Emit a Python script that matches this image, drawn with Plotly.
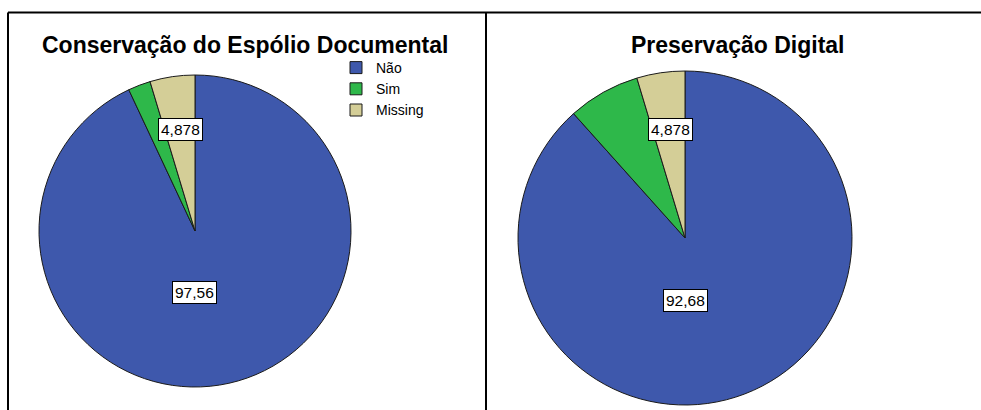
import plotly.graph_objects as go

# ---- data ----
categories = ["Não", "Sim", "Missing"]
left_title = "Conservação do Espólio Documental"
right_title = "Preservação Digital"
left_counts = [40, 1, 2]
right_counts = [38, 3, 2]
# percentages shown in the label boxes (Não, Missing)
left_labels = {"Não": "97,56", "Missing": "4,878"}
right_labels = {"Não": "92,68", "Missing": "4,878"}

colors = ["#3E58AC", "#2EB84A", "#D4CE97"]
W, H = 981, 410

def px_x(x):
    return x / W

def px_y(y):
    return 1 - y / H

fig = go.Figure()

# left pie: centre (195,231), r 156
lc, lr = (195, 231), 156
fig.add_trace(go.Pie(
    labels=categories, values=left_counts, sort=False, direction="clockwise",
    rotation=0, textinfo="none", hoverinfo="label+value",
    marker=dict(colors=colors, line=dict(color="#1a1a1a", width=1)),
    domain=dict(x=[px_x(lc[0] - lr), px_x(lc[0] + lr)],
                y=[px_y(lc[1] + lr), px_y(lc[1] - lr)]),
    legend="legend", showlegend=True,
))
# right pie: centre (685,238), r 167
rc, rr = (685, 238), 167
fig.add_trace(go.Pie(
    labels=categories, values=right_counts, sort=False, direction="clockwise",
    rotation=0, textinfo="none", hoverinfo="label+value",
    marker=dict(colors=colors, line=dict(color="#1a1a1a", width=1)),
    domain=dict(x=[px_x(rc[0] - rr), px_x(rc[0] + rr)],
                y=[px_y(rc[1] + rr), px_y(rc[1] - rr)]),
    legend="legend2", showlegend=True,
))

font_family = "Arial, Liberation Sans, sans-serif"
annotations = []
# titles
annotations.append(dict(text=f"<b>{left_title}</b>", x=px_x(245), y=px_y(45),
                        xref="paper", yref="paper", showarrow=False,
                        xanchor="center", yanchor="middle",
                        font=dict(family=font_family, size=23, color="black")))
annotations.append(dict(text=f"<b>{right_title}</b>", x=px_x(738), y=px_y(45),
                        xref="paper", yref="paper", showarrow=False,
                        xanchor="center", yanchor="middle",
                        font=dict(family=font_family, size=23, color="black")))

# value label boxes
label_pos = [
    (left_labels["Missing"], 180, 129),
    (left_labels["Não"], 194, 292),
    (right_labels["Missing"], 670, 129),
    (right_labels["Não"], 685, 300),
]
for txt, x, y in label_pos:
    annotations.append(dict(text=txt, x=px_x(x), y=px_y(y), xref="paper", yref="paper",
                            showarrow=False, xanchor="center", yanchor="middle",
                            bgcolor="white", bordercolor="black", borderwidth=1,
                            borderpad=2,
                            font=dict(family=font_family, size=15.5, color="black")))

shapes = [
    dict(type="line", xref="paper", yref="paper", x0=px_x(8), x1=1.0,
         y0=px_y(12.5), y1=px_y(12.5), line=dict(color="black", width=2)),
    dict(type="line", xref="paper", yref="paper", x0=px_x(8), x1=px_x(8),
         y0=px_y(12.5), y1=0, line=dict(color="black", width=2)),
    dict(type="line", xref="paper", yref="paper", x0=px_x(486), x1=px_x(486),
         y0=px_y(12.5), y1=0, line=dict(color="black", width=2)),
]

legend_common = dict(font=dict(family=font_family, size=14, color="black"),
                     bgcolor="rgba(0,0,0,0)", borderwidth=0,
                     xanchor="left", yanchor="top", itemclick=False,
                     itemdoubleclick=False)

fig.update_layout(
    width=W, height=H, margin=dict(l=0, r=0, t=0, b=0),
    paper_bgcolor="white", plot_bgcolor="white",
    annotations=annotations, shapes=shapes,
    legend=dict(x=px_x(336), y=px_y(52), **legend_common),
    legend2=dict(x=px_x(830), y=px_y(52), **legend_common),
)

fig.write_html("out.html")
